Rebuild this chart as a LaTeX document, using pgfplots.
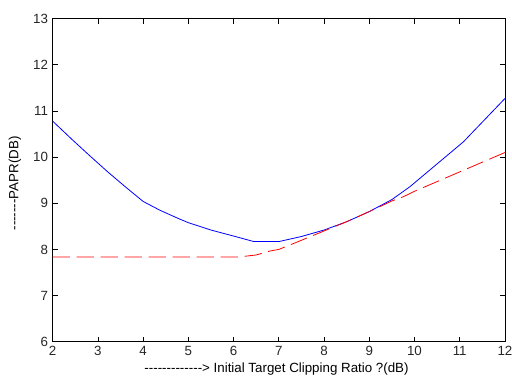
\documentclass[border=0pt]{standalone}
\usepackage{fontspec}
\setmainfont{Liberation Sans}
\usepackage{pgfplots}
\pgfplotsset{compat=1.18}
\def\h{-\kern0pt}
\begin{document}
\begin{tikzpicture}
\useasboundingbox (0,0) rectangle (384pt,282pt);
\begin{axis}[
  at={(39.5pt,25.7pt)}, anchor=south west,
  scale only axis, width=339.2pt, height=242.3pt,
  xmin=2, xmax=12, ymin=6, ymax=13,
  xtick={2,3,...,12}, ytick={6,7,...,13},
  major tick length=3.75pt,
  tick style={black, line width=0.5pt},
  axis line style={black, line width=0.6pt},
  /pgf/number format/assume math mode=true,
  tick label style={font=\fontsize{10}{12}\selectfont, text=black!85},
  label style={font=\fontsize{10}{12}\selectfont},
  every axis x label/.style={at={(rel axis cs:0.495,0)}, anchor=center, yshift=-20.5pt},
  every axis y label/.style={at={(rel axis cs:-0.0834,0.49)}, anchor=center, rotate=90},
  xlabel={\h\h\h\h\h\h\h\h\h\h\h\h\h> Initial Target Clipping Ratio ?(dB)},
  ylabel={\h\h\h\h\h\h\h PAPR(DB)},
]
\addplot[blue, line width=0.6pt] coordinates {
 (2,10.78) (2.42,10.39) (2.82,10.03) (3.23,9.67) (3.64,9.33) (4,9.04) (4.37,8.85) (4.78,8.67) (5,8.58) (5.5,8.42) (6,8.29) (6.45,8.17) (7,8.17) (7.5,8.28) (8,8.42) (8.5,8.6) (9,8.82) (9.5,9.08) (9.9,9.36) (11.08,10.33) (12,11.27)
};
\addplot[red, line width=0.6pt, dash pattern=on 13pt off 5pt] coordinates {
 (2,7.835) (6.1,7.835) (6.5,7.88) (6.8,7.965) (7,8.0) (7.43,8.17) (8,8.4) (8.5,8.6) (9,8.82) (9.5,9.05) (9.75,9.14) (10,9.26) (11,9.68) (12,10.1)
};
\end{axis}
\end{tikzpicture}
\end{document}
